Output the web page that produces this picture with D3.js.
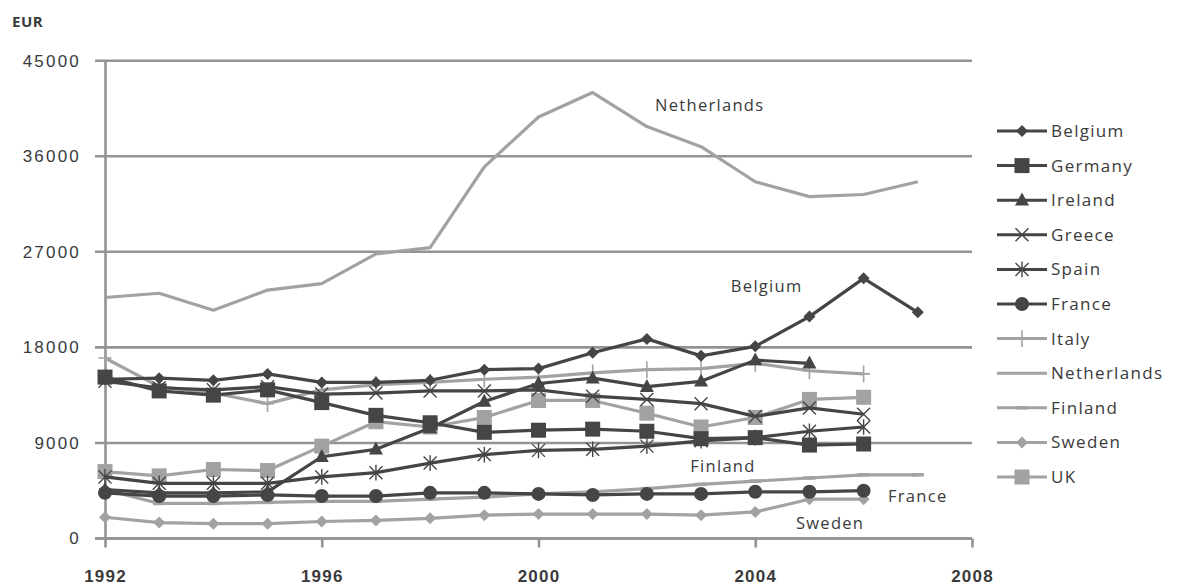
<!DOCTYPE html>
<html>
<head>
<meta charset="utf-8">
<script src="https://cdn.jsdelivr.net/npm/d3@7"></script>
<style>
  html, body { margin: 0; padding: 0; background: #fff; }
  svg { display: block; font-family: "Open Sans", "Noto Sans", sans-serif; }
</style>
</head>
<body>
<svg id="chart" width="1179" height="585"></svg>
<script>
// Yearly values in EUR, one array per country (1992 onward)
const years = d3.range(1992, 2008);
const belgium     = [15000, 15100, 14900, 15500, 14700, 14700, 14900, 15900, 16000, 17500, 18800, 17200, 18100, 20900, 24500, 21300];
const germany     = [15200, 13900, 13500, 14000, 12800, 11600, 10900, 10000, 10200, 10300, 10100, 9400, 9500, 8800, 8900];
const ireland     = [4600, 4300, 4300, 4400, 7700, 8400, 10400, 12900, 14600, 15100, 14300, 14800, 16800, 16500];
const greece      = [14800, 14200, 14000, 14300, 13600, 13700, 13900, 13900, 14000, 13400, 13100, 12700, 11500, 12300, 11700];
const spain       = [5800, 5200, 5200, 5200, 5800, 6200, 7100, 7900, 8300, 8400, 8700, 9200, 9500, 10100, 10500];
const france      = [4300, 4000, 4000, 4100, 4000, 4000, 4300, 4300, 4200, 4100, 4200, 4200, 4400, 4400, 4500];
const italy       = [17000, 14300, 13700, 12700, 14000, 14500, 14700, 15000, 15200, 15600, 15900, 16000, 16500, 15800, 15500];
const netherlands = [22700, 23100, 21500, 23400, 24000, 26800, 27400, 35000, 39700, 42000, 38800, 36900, 33600, 32200, 32400, 33600];
const finland     = [4600, 3300, 3300, 3400, 3500, 3500, 3700, 3900, 4200, 4400, 4700, 5100, 5400, 5700, 6000, 6000];
const sweden      = [2000, 1500, 1400, 1400, 1600, 1700, 1900, 2200, 2300, 2300, 2300, 2200, 2500, 3700, 3700];
const uk          = [6300, 5900, 6500, 6400, 8700, 11000, 10500, 11400, 13000, 13000, 11800, 10500, 11400, 13100, 13300];

const yTicks = [0, 9000, 18000, 27000, 36000, 45000];
const xTicks = [1992, 1996, 2000, 2004, 2008];

const DARK = "#454545";
const LIGHT = "#a2a2a2";

const series = [
  { name: "Belgium",     values: belgium,     color: DARK,  marker: "diamond" },
  { name: "Germany",     values: germany,     color: DARK,  marker: "square" },
  { name: "Ireland",     values: ireland,     color: DARK,  marker: "triangle" },
  { name: "Greece",      values: greece,      color: DARK,  marker: "x" },
  { name: "Spain",       values: spain,       color: DARK,  marker: "star" },
  { name: "France",      values: france,      color: DARK,  marker: "circle" },
  { name: "Italy",       values: italy,       color: LIGHT, marker: "plus" },
  { name: "Netherlands", values: netherlands, color: LIGHT, marker: "none" },
  { name: "Finland",     values: finland,     color: LIGHT, marker: "dash" },
  { name: "Sweden",      values: sweden,      color: LIGHT, marker: "diamond" },
  { name: "UK",          values: uk,          color: LIGHT, marker: "square" }
];

// Labels written next to selected lines
const callouts = [
  { text: "Netherlands", year: 2002.15, value: 40300 },
  { text: "Belgium",     year: 2003.55, value: 23200 },
  { text: "Finland",     year: 2002.8,  value: 6300 },
  { text: "France",      year: 2006.45, value: 3450 },
  { text: "Sweden",      year: 2004.75, value: 900 }
];

const svg = d3.select("#chart");
const plot = { left: 105, right: 972, top: 60.7, bottom: 538.5 };

const x = d3.scaleLinear().domain([1992, 2008]).range([plot.left, plot.right]);
const y = d3.scaleLinear().domain([0, 45000]).range([plot.bottom, plot.top]);

const GRID = "#939393";
const TEXT = "#3a3a3a";

// Horizontal gridlines
svg.append("g")
  .selectAll("line")
  .data(yTicks)
  .join("line")
  .attr("x1", plot.left - 10).attr("x2", plot.right)
  .attr("y1", d => y(d)).attr("y2", d => y(d))
  .attr("stroke", GRID).attr("stroke-width", 2.6);

// Y axis
const yAxis = svg.append("g")
  .attr("transform", `translate(${plot.left},0)`)
  .call(d3.axisLeft(y).tickValues(yTicks).tickSize(0).tickPadding(24).tickFormat(d3.format("d")));
yAxis.select(".domain").attr("stroke", GRID).attr("stroke-width", 2.6);
yAxis.selectAll("text").attr("font-size", 17).attr("letter-spacing", 2.2).attr("fill", TEXT);

// X axis
const xAxis = svg.append("g")
  .attr("transform", `translate(0,${plot.bottom})`)
  .call(d3.axisBottom(x).tickValues(xTicks).tickSize(9).tickPadding(22).tickFormat(d3.format("d")));
xAxis.select(".domain").attr("stroke", GRID).attr("stroke-width", 2.6)
  .attr("d", `M${plot.left - 10},0H${plot.right}`);
xAxis.selectAll(".tick line").attr("stroke", GRID).attr("stroke-width", 2.6);
xAxis.selectAll("text").attr("font-size", 17).attr("font-weight", 600)
  .attr("letter-spacing", 1.2).attr("fill", TEXT);

// Unit label
svg.append("text")
  .attr("x", 12).attr("y", 27)
  .attr("font-size", 15).attr("font-weight", 700).attr("letter-spacing", 0.5).attr("fill", TEXT)
  .text("EUR");

// Marker shapes
function drawMarker(g, type, color, size) {
  const s = size;
  switch (type) {
    case "diamond":
      g.append("path").attr("d", `M0,${-s}L${s},0L0,${s}L${-s},0Z`).attr("fill", color);
      break;
    case "square":
      g.append("rect").attr("x", -s).attr("y", -s).attr("width", 2 * s).attr("height", 2 * s).attr("fill", color);
      break;
    case "triangle":
      g.append("path").attr("d", `M0,${-s * 1.1}L${s},${s * 0.75}L${-s},${s * 0.75}Z`).attr("fill", color);
      break;
    case "circle":
      g.append("circle").attr("r", s).attr("fill", color);
      break;
    case "x":
      g.append("path").attr("d", `M${-s},${-s}L${s},${s}M${-s},${s}L${s},${-s}`)
        .attr("stroke", color).attr("stroke-width", 1.4).attr("fill", "none");
      break;
    case "star":
      g.append("path").attr("d", `M${-s},${-s}L${s},${s}M${-s},${s}L${s},${-s}M0,${-s * 1.2}L0,${s * 1.2}`)
        .attr("stroke", color).attr("stroke-width", 1.4).attr("fill", "none");
      break;
    case "plus":
      g.append("path").attr("d", `M0,${-s * 1.3}L0,${s * 1.3}M${-s},0L${s},0`)
        .attr("stroke", color).attr("stroke-width", 1.6).attr("fill", "none");
      break;
    case "dash":
      g.append("path").attr("d", `M${-s},0L${s},0`)
        .attr("stroke", color).attr("stroke-width", 3.5).attr("fill", "none");
      break;
  }
}

const markerSize = { diamond: 6, square: 7.5, triangle: 7, circle: 7, x: 6.5, star: 6.5, plus: 6.5, dash: 6 };

const line = d3.line().x(d => x(d[0])).y(d => y(d[1]));

// Draw series in reverse order so Belgium ends on top
const lines = svg.append("g");
series.slice().reverse().forEach(s => {
  const pts = s.values.map((v, i) => [years[i], v]);
  const g = lines.append("g");
  g.append("path")
    .datum(pts)
    .attr("d", line)
    .attr("fill", "none")
    .attr("stroke", s.color)
    .attr("stroke-width", 3.2)
    .attr("stroke-linejoin", "round");
  if (s.marker !== "none") {
    g.selectAll("g.m")
      .data(pts)
      .join("g")
      .attr("class", "m")
      .attr("transform", d => `translate(${x(d[0])},${y(d[1])})`)
      .each(function () { drawMarker(d3.select(this), s.marker, s.color, markerSize[s.marker]); });
  }
});

// Callout labels
svg.append("g")
  .selectAll("text")
  .data(callouts)
  .join("text")
  .attr("x", d => x(d.year))
  .attr("y", d => y(d.value))
  .attr("font-size", 16.5)
  .attr("letter-spacing", 1.3)
  .attr("fill", TEXT)
  .text(d => d.text);

// Legend
const legend = svg.append("g").attr("transform", "translate(997,131)");
series.forEach((s, i) => {
  const row = legend.append("g").attr("transform", `translate(0,${i * 34.6})`);
  row.append("line").attr("x1", 0).attr("x2", 50).attr("y1", 0).attr("y2", 0)
    .attr("stroke", s.color).attr("stroke-width", 3);
  if (s.marker !== "none") {
    const m = row.append("g").attr("transform", "translate(25,0)");
    drawMarker(m, s.marker, s.color, markerSize[s.marker]);
  }
  row.append("text").attr("x", 54).attr("y", 6)
    .attr("font-size", 17).attr("letter-spacing", 1.3).attr("fill", TEXT)
    .text(s.name);
});
</script>
</body>
</html>
